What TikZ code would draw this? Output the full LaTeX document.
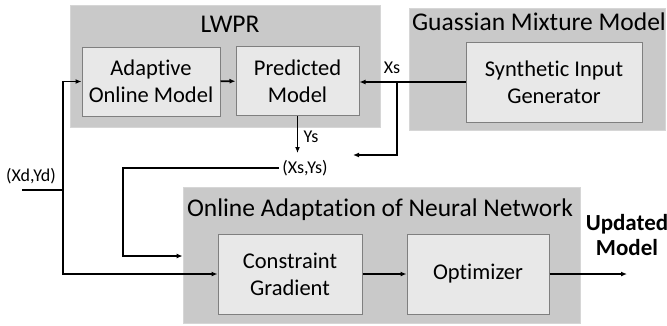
\documentclass[tikz,border=0pt]{standalone}
\usepackage{fontspec}
\setmainfont{Carlito}[Ligatures=NoCommon]
\usetikzlibrary{arrows.meta}
\tikzset{
  outerbox/.style={fill=outerfill, draw=outerline, line width=0.8pt, inner sep=0pt},
  innerbox/.style={fill=innerfill, draw=innerline, line width=1pt, align=center,
    font=\fontsize{22.5}{27}\selectfont, inner sep=0pt},
  boxtitle/.style={font=\fontsize{25.5}{28}\selectfont, inner sep=0pt},
  sig/.style={font=\fontsize{18}{20}\selectfont, inner sep=0pt},
  wire/.style={line width=1.8pt},
  arr/.style={wire, -{Latex[length=6pt,width=5pt]}}
}
\definecolor{outerfill}{HTML}{C9C9C9}
\definecolor{outerline}{HTML}{D6D6D6}
\definecolor{innerfill}{HTML}{E8E8E8}
\definecolor{innerline}{HTML}{7F7F7F}
\begin{document}
\begin{tikzpicture}[x=1pt,y=-1pt]
            \useasboundingbox (0,0) rectangle (667,325);
            % group boxes
            \node [outerbox, minimum width=310pt, minimum height=122pt] (lwpr) at (225,66) {};
            \node [boxtitle] (lwprtitle) at (230,24) {LWPR};
            \node [outerbox, minimum width=256pt, minimum height=122pt] (gmm) at (537,69) {};
            \node [boxtitle] (gmmtitle) at (539,22) {Guassian Mixture Model};
            \node [outerbox, minimum width=397pt, minimum height=136pt] (online) at (381.5,255.5) {};
            \node [boxtitle] (onlinetitle) at (380,210) {Online Adaptation of Neural Network};
            % blocks
            \node [innerbox, minimum width=138pt, minimum height=69pt] (adaptive) at (151,81.5) {Adaptive\\Online Model};
            \node [innerbox, minimum width=123pt, minimum height=69pt] (predicted) at (297.5,81) {Predicted\\Model};
            \node [innerbox, minimum width=176pt, minimum height=80pt] (synth) at (554,82) {Synthetic Input\\Generator};
            \node [innerbox, minimum width=144pt, minimum height=80pt] (constraint) at (290,274) {Constraint\\Gradient};
            \node [innerbox, minimum width=142pt, minimum height=80pt] (optimizer) at (478,274) {Optimizer};
            % signals
            \node [sig] (xd) at (31,176) {(Xd,Yd)};
            \node [sig] (xys) at (305,168) {(Xs,Ys)};
            \node [sig] (xs) at (392,68) {Xs};
            \node [sig] (ys) at (311,137) {Ys};
            \node [align=center, font=\fontsize{23}{25}\selectfont\bfseries, inner sep=0pt] (updated) at (627,235) {Updated\\Model};
            \coordinate (din) at (22,190);
            \coordinate (dsplit) at (63,190);
            \coordinate (xsplit) at (397,81);
            \coordinate (xsend) at (353,155);
            \coordinate (fb) at (123,256);
            \coordinate (out) at (627,274);
            % connectors
            \draw [arr] (adaptive) -- (predicted);
            \draw [arr] (synth.west) -- (synth.west -| predicted.east);
            \draw [arr] (xsplit) |- (xsend);
            \draw [arr] (predicted.south) -- (predicted.south |- 0,153);
            \draw [wire] (din) -- (dsplit);
            \draw [arr] (dsplit) |- (adaptive.west);
            \draw [arr] (dsplit) |- (constraint.west);
            \draw [arr] ([xshift=-3pt]xys.west) -| (fb) -- (fb -| online.west);
            \draw [arr] (constraint) -- (optimizer);
            \draw [arr] (optimizer) -- (out);
        \end{tikzpicture}
\end{document}
